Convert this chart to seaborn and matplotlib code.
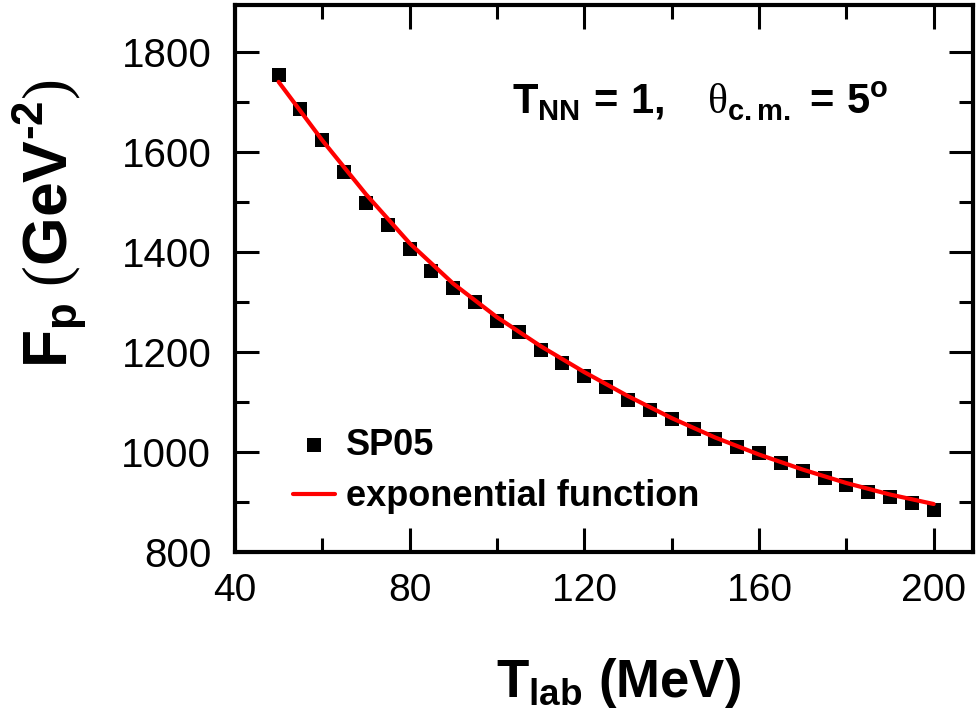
import pandas as pd
import seaborn as sns
import matplotlib
matplotlib.use('Agg')
import matplotlib.pyplot as plt
from matplotlib.ticker import MultipleLocator

# SP05 points
t_lab = [50, 55, 60, 65, 70, 75, 80, 85, 90, 95, 100, 105, 110, 115, 120, 125,
         130, 135, 140, 145, 150, 155, 160, 165, 170, 175, 180, 185, 190, 195, 200]
fp_sp05 = [1755, 1686, 1625, 1560, 1499, 1455, 1406, 1363, 1328, 1300, 1263, 1240,
           1205, 1179, 1153, 1131, 1104, 1085, 1067, 1047, 1027, 1011, 998, 978,
           963, 948, 935, 921, 911, 898, 884]

# exponential function curve
t_fit = [50, 60, 70, 80, 90, 100, 110, 120, 130, 140, 150, 160, 170, 180, 190, 200]
fp_fit = [1741, 1624, 1516, 1418, 1337, 1270, 1212, 1160, 1112, 1068, 1029, 995,
          965, 938, 915, 896]

x_ticks = [40, 80, 120, 160, 200]
y_ticks = [800, 1000, 1200, 1400, 1600, 1800]

sns.set_style('ticks')
plt.rcParams['font.family'] = ['Liberation Sans', 'DejaVu Sans']
plt.rcParams['mathtext.fontset'] = 'custom'
plt.rcParams['mathtext.rm'] = 'Liberation Serif'
plt.rcParams['mathtext.bf'] = 'Liberation Sans:bold'
plt.rcParams['mathtext.it'] = 'Liberation Sans:italic'
plt.rcParams['mathtext.sf'] = 'Liberation Sans'
for key in ['text.color', 'axes.labelcolor', 'xtick.color', 'ytick.color', 'axes.edgecolor']:
    plt.rcParams[key] = 'black'

df_pts = pd.DataFrame({'T_lab': t_lab, 'F_p': fp_sp05})
df_fit = pd.DataFrame({'T_lab': t_fit, 'F_p': fp_fit})

fig = plt.figure(figsize=(9.77, 7.28), dpi=100)
ax = fig.add_axes([0.2405, 0.2418, 0.7554, 0.7514])

sns.scatterplot(data=df_pts, x='T_lab', y='F_p', marker='s', s=90, color='black',
                linewidth=0, ax=ax, label='SP05', zorder=2)
sns.lineplot(data=df_fit, x='T_lab', y='F_p', color='#ff0000', linewidth=3,
             ax=ax, label='exponential function', zorder=3)

ax.set_xlim(40, 209)
ax.set_ylim(800, 1895)
ax.set_xticks(x_ticks)
ax.set_yticks(y_ticks)
ax.xaxis.set_minor_locator(MultipleLocator(20))
ax.yaxis.set_minor_locator(MultipleLocator(100))

for side in ['left', 'right', 'top', 'bottom']:
    ax.spines[side].set_linewidth(3)
    ax.spines[side].set_color('black')

ax.tick_params(which='both', direction='in', top=True, right=True, width=2.2, color='black')
ax.tick_params(which='major', length=17)
ax.tick_params(which='minor', length=10)
ax.tick_params(axis='x', which='major', labelsize=28, pad=15)
ax.tick_params(axis='y', which='major', labelsize=29, pad=17)

ax.set_xlabel(r'$\mathbf{T_{lab}\ (MeV)}$', fontsize=38)
ax.set_ylabel(r'$\mathbf{F_p}\;\mathrm{(}\mathbf{GeV^{' + '\u2010' + r'2}}\mathrm{)}$', fontsize=45)
ax.xaxis.set_label_coords(0.52, -0.19)
ax.yaxis.set_label_coords(-0.198, 0.6)

ax.text(0.375, 0.8026,
        r'$\mathbf{T_{NN}\,=\,1,}\quad\mathrm{\theta}_{\mathbf{c.m.}}\mathbf{\,=\,5^{o}}$',
        transform=ax.transAxes, fontsize=30, ha='left', va='baseline')

leg = ax.legend(loc='upper left', bbox_to_anchor=(0.0786, 0.227), frameon=False,
                prop={'weight': 'bold', 'size': 26}, handlelength=1.16,
                handletextpad=0.3, labelspacing=0.46, borderpad=0, borderaxespad=0,
                markerscale=1.0)

fig.savefig('out.png', dpi=100)
